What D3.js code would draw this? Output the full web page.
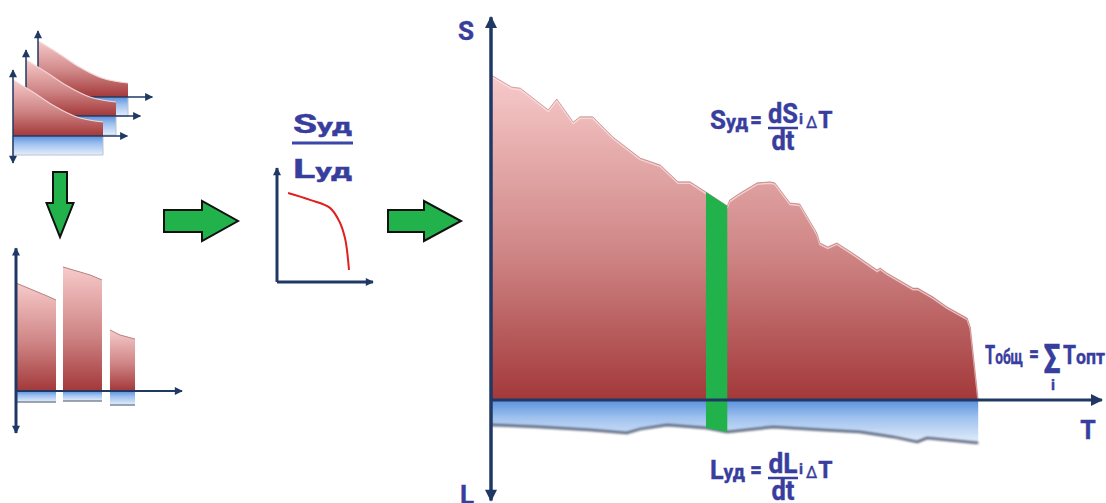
<!DOCTYPE html>
<html>
<head>
<meta charset="utf-8">
<script src="https://cdn.jsdelivr.net/npm/d3@7"></script>
<style>
  body { margin: 0; background: #fff; }
  text { font-family: Roboto, "Noto Sans", sans-serif; font-weight: bold; fill: #383e9e; stroke: #383e9e; stroke-width: 0.4px; }
</style>
</head>
<body>
<svg id="chart" width="1106" height="503"></svg>
<script>
// ---- main diagram: specific value S over time T, losses L below the axis
const profileT = [0, 3.4, 4.8, 9.4, 10.8, 13.5, 14.6, 16.7, 20.0, 24.5, 27.8, 30.7, 32.7, 35.3, 38.8, 39.2, 40.9, 43.7, 45.8, 46.6, 49.1, 50.7, 53.5, 54.0, 55.3, 56.8, 59.4, 63.4, 63.9, 65.0, 69.3, 70.1, 72.6, 74.9, 78.2, 78.7, 80.0];
const profileS = [98.5, 94.8, 94.5, 87.9, 91.2, 84.2, 85.8, 85.8, 79.7, 73.3, 71.2, 66.1, 66.1, 63.0, 58.8, 60.6, 62.7, 65.8, 66.1, 65.8, 59.7, 59.4, 50.6, 47.6, 46.4, 47.6, 44.5, 39.4, 40.0, 38.5, 33.9, 33.9, 31.2, 28.2, 24.8, 22.1, 0];
const lossT = [0, 8.0, 16.3, 22.3, 24.5, 28.9, 35.3, 38.8, 46.3, 54.5, 60.6, 63.9, 66.0, 70.0, 71.6, 74.9, 80.0];
const lossL = [8.3, 9.0, 10.0, 11.0, 9.7, 8.3, 9.3, 10.7, 9.0, 10.0, 10.7, 11.7, 12.3, 14.0, 12.7, 13.3, 14.3];
const sliceT = [35.3, 38.8]; // the highlighted ΔT interval

// ---- stacked source panels (top left)
const stackT = [0, 22, 44, 71, 100];
const stackS = [56, 44, 31, 19, 14];
const stackL = [19, 19, 19, 19, 19];

// ---- split bars (bottom left)
const barT = [[0, 10.2, 18.7, 24.1], [28.3, 38.6, 44.6, 51.8], [56.6, 62.7, 71.7]];
const barS = [[77.1, 72.1, 67.9, 65.0], [88.6, 85.0, 82.9, 79.3], [43.6, 40.0, 37.1]];
const barL = [7.9, 7.1, 10.0];

// ---- S/L ratio curve (middle)
const curveT = [11.5, 34.4, 55.2, 65.6, 70.8, 72.9, 75];
const curveS = [78, 72, 65, 52, 38.6, 28, 10.5];

const svg = d3.select("#chart");
const axisColor = "#1f3864";
const textColor = "#383e9e";
const defs = svg.append("defs");

// gradients
const redGrad = defs.append("linearGradient").attr("id", "red").attr("x1", 0).attr("y1", 0).attr("x2", 0).attr("y2", 1);
redGrad.append("stop").attr("offset", "0%").attr("stop-color", "#f7caca");
redGrad.append("stop").attr("offset", "55%").attr("stop-color", "#cf8585");
redGrad.append("stop").attr("offset", "100%").attr("stop-color", "#a3383a");

const blueGrad = defs.append("linearGradient").attr("id", "blue").attr("x1", 0).attr("y1", 0).attr("x2", 0).attr("y2", 1);
blueGrad.append("stop").attr("offset", "0%").attr("stop-color", "#5a90dc");
blueGrad.append("stop").attr("offset", "40%").attr("stop-color", "#9dc0ee");
blueGrad.append("stop").attr("offset", "100%").attr("stop-color", "#e4eefb");

// soft shadow for the lower (loss) edge
const blur = defs.append("filter").attr("id", "soft").attr("x", "-5%").attr("y", "-50%").attr("width", "110%").attr("height", "200%");
blur.append("feGaussianBlur").attr("stdDeviation", 0.8);

// arrow heads
function marker(id, w, h) {
  defs.append("marker")
    .attr("id", id)
    .attr("viewBox", "0 0 10 10")
    .attr("refX", 9).attr("refY", 5)
    .attr("markerUnits", "userSpaceOnUse")
    .attr("markerWidth", w).attr("markerHeight", h)
    .attr("orient", "auto-start-reverse")
    .append("path")
    .attr("d", "M0,0L10,5L0,10Z")
    .attr("fill", axisColor);
}
marker("arrowBig", 14, 12);
marker("arrowSmall", 9, 8);

function arrowLine(g, x1, y1, x2, y2, width, head, both) {
  return g.append("line")
    .attr("x1", x1).attr("y1", y1).attr("x2", x2).attr("y2", y2)
    .attr("stroke", axisColor).attr("stroke-width", width)
    .attr("marker-end", `url(#${head})`)
    .attr("marker-start", both ? `url(#${head})` : null);
}

// text made of [string, size] parts, squeezed to a given width
function label(g, x0, y0, parts, width, anchor) {
  const t = g.append("text").attr("x", x0).attr("y", y0).attr("text-anchor", anchor || "start");
  parts.forEach(([s, size]) => t.append("tspan").attr("font-size", size).text(s));
  if (width) t.attr("textLength", width).attr("lengthAdjust", "spacingAndGlyphs");
  return t;
}

// ---------------- main chart ----------------
const x = d3.scaleLinear().domain([0, 100]).range([491, 1100]);
const yS = d3.scaleLinear().domain([0, 100]).range([400, 70]);
const yL = d3.scaleLinear().domain([0, 30]).range([400, 490]);

const topPts = profileT.map((t, i) => ({ t, v: profileS[i] }));
const bottomPts = lossT.map((t, i) => ({ t, v: lossL[i] }));

const main = svg.append("g").attr("class", "main");

main.append("path")
  .datum(topPts)
  .attr("d", d3.area().x(d => x(d.t)).y0(yS(0)).y1(d => yS(d.v)))
  .attr("fill", "url(#red)");

main.append("path")
  .datum(topPts)
  .attr("d", d3.line().x(d => x(d.t)).y(d => yS(d.v) + 1.5))
  .attr("fill", "none").attr("stroke", "#fbe3e3").attr("stroke-width", 1.5).attr("opacity", 0.7);

main.append("path")
  .datum(topPts)
  .attr("d", d3.line().x(d => x(d.t)).y(d => yS(d.v)))
  .attr("fill", "none").attr("stroke", "#b87272").attr("stroke-width", 1).attr("opacity", 0.6);

main.append("path")
  .datum(bottomPts)
  .attr("d", d3.area().x(d => x(d.t)).y0(yL(0)).y1(d => yL(d.v)))
  .attr("fill", "url(#blue)");

main.append("path")
  .datum(bottomPts)
  .attr("d", d3.line().x(d => x(d.t)).y(d => yL(d.v)))
  .attr("fill", "none").attr("stroke", "#56627a").attr("stroke-width", 2.5)
  .attr("filter", "url(#soft)");

// highlighted ΔT slice
const inSlice = d => d.t >= sliceT[0] && d.t <= sliceT[1];
const slicePts = topPts.filter(inSlice).map(d => [x(d.t), yS(d.v)])
  .concat(bottomPts.filter(inSlice).reverse().map(d => [x(d.t), yL(d.v)]));
main.append("path")
  .attr("d", d3.line()(slicePts) + "Z")
  .attr("fill", "#22b24c");

// axes
arrowLine(main, x(0), yS(0), x(100.3), yS(0), 3, "arrowBig", false);
arrowLine(main, x(0), yL(33.5), x(0), yS(116), 3.5, "arrowBig", true);

label(main, 466, 40, [["S", 26]], 0, "middle");
label(main, 467, 504, [["L", 26]], 0, "middle");
label(main, 1088, 439, [["T", 25]], 0, "middle");

// formulas  X_уд = dX/dt · i ΔT
function fraction(g, cx, yBar, num, den, wNum, wDen) {
  label(g, cx, yBar - 5, [[num, 27]], wNum, "middle");
  g.append("line").attr("x1", cx - 15).attr("x2", cx + 15).attr("y1", yBar).attr("y2", yBar)
    .attr("stroke", textColor).attr("stroke-width", 2.5);
  label(g, cx, yBar + 22, [[den, 27]], wDen, "middle");
}

function specFormula(g, base, letter, wHead, num, wNum) {
  label(g, 710, base, [[letter, 26], ["уд", 20]], wHead);
  label(g, 750, base - 1, [["=", 24]], 12);
  fraction(g, 783, base - 1, num, "dt", wNum, 23);
  label(g, 799, base - 5, [["i", 15]], 0);
  const dt = g.append("text").attr("x", 806).attr("y", base - 1);
  dt.append("tspan").attr("font-size", 16).attr("font-weight", "normal").text("∆");
  dt.append("tspan").attr("font-size", 23).attr("dx", 1).text("T");
}
specFormula(main, 129, "S", 38, "dS", 30);
specFormula(main, 479, "L", 35, "dL", 29);

label(main, 985, 364, [["T", 25], ["общ", 21]], 38);
label(main, 1029, 362, [["=", 24]], 10);
main.append("text")
  .attr("transform", "translate(1052,373) scale(1,1.35)")
  .attr("text-anchor", "middle").attr("font-size", 30).text("Σ");
label(main, 1053, 390, [["i", 15]], 0, "middle");
label(main, 1063, 364, [["T", 25], ["опт", 21]], 42);

// ---------------- stacked panels (top left) ----------------
const sx = d3.scaleLinear().domain([0, 100]).range([0, 90]);
const sy = d3.scaleLinear().domain([0, 60]).range([0, -60]);
const sl = d3.scaleLinear().domain([0, 60]).range([0, 60]);
const stack = stackT.map((t, i) => ({ t, v: stackS[i], l: stackL[i] }));
const panelOrigins = [[38, 97], [26, 116], [13, 136]];

panelOrigins.forEach(([ox, oy], k) => {
  const g = svg.append("g").attr("transform", `translate(${ox},${oy})`);
  g.append("path").datum(stack)
    .attr("d", d3.area().x(d => sx(d.t)).y0(sl(0)).y1(d => sl(d.l)))
    .attr("fill", "url(#blue)").attr("stroke", "#b9c4d4").attr("stroke-width", 1);
  g.append("path").datum(stack)
    .attr("d", d3.area().x(d => sx(d.t)).y0(sy(0)).y1(d => sy(d.v)).curve(d3.curveMonotoneX))
    .attr("fill", "url(#red)");
  g.append("path").datum(stack)
    .attr("d", d3.line().x(d => sx(d.t)).y(d => sy(d.v)).curve(d3.curveMonotoneX))
    .attr("fill", "none").attr("stroke", "#f3d6d6").attr("stroke-width", 1.2);
  arrowLine(g, sx(0), sy(0), sx(127), sy(0), 1.5, "arrowSmall", false);
  const front = k === panelOrigins.length - 1;
  arrowLine(g, sx(0), front ? 27 : sy(0), sx(0), sy(66), 1.5, "arrowSmall", front);
});

// ---------------- split bars (bottom left) ----------------
const bx = d3.scaleLinear().domain([0, 100]).range([16, 182]);
const by = d3.scaleLinear().domain([0, 100]).range([391, 251]);
const bl = d3.scaleLinear().domain([0, 20]).range([391, 419]);
const bars = svg.append("g");

barT.forEach((ts, k) => {
  const pts = ts.map((t, i) => ({ t, v: barS[k][i] }));
  bars.append("rect")
    .attr("x", bx(ts[0])).attr("y", bl(0))
    .attr("width", bx(ts[ts.length - 1]) - bx(ts[0]))
    .attr("height", bl(barL[k]) - bl(0))
    .attr("fill", "url(#blue)");
  bars.append("line")
    .attr("x1", bx(ts[0])).attr("x2", bx(ts[ts.length - 1]))
    .attr("y1", bl(barL[k])).attr("y2", bl(barL[k]))
    .attr("stroke", "#7d8799").attr("stroke-width", 1.5);
  bars.append("path").datum(pts)
    .attr("d", d3.area().x(d => bx(d.t)).y0(by(0)).y1(d => by(d.v)))
    .attr("fill", "url(#red)");
  bars.append("path").datum(pts)
    .attr("d", d3.line().x(d => bx(d.t)).y(d => by(d.v)))
    .attr("fill", "none").attr("stroke", "#b58080").attr("stroke-width", 1);
});
arrowLine(bars, bx(0), by(0), bx(100), by(0), 1.8, "arrowSmall", false);
arrowLine(bars, bx(0), bl(30), bx(0), by(102), 3, "arrowSmall", true);

// ---------------- S/L curve (middle) ----------------
const cx = d3.scaleLinear().domain([0, 100]).range([277, 373]);
const cy = d3.scaleLinear().domain([0, 100]).range([282, 168]);
const mid = svg.append("g");
mid.append("path")
  .datum(curveT.map((t, i) => ({ t, v: curveS[i] })))
  .attr("d", d3.line().x(d => cx(d.t)).y(d => cy(d.v)).curve(d3.curveCatmullRom))
  .attr("fill", "none").attr("stroke", "#e0201e").attr("stroke-width", 2);
arrowLine(mid, cx(0), cy(0), cx(100), cy(0), 3, "arrowSmall", false);
arrowLine(mid, cx(0), cy(0), cx(0), cy(100), 3, "arrowSmall", false);

label(mid, 293, 133, [["S", 26], ["уд", 21]], 59);
mid.append("line").attr("x1", 292).attr("x2", 353).attr("y1", 143).attr("y2", 143)
  .attr("stroke", "#3b47a8").attr("stroke-width", 3);
label(mid, 293, 178, [["L", 26], ["уд", 21]], 59);

// ---------------- green process arrows ----------------
function greenArrow(x0, y0, bodyLen, bodyW, headLen, headW, angle) {
  const shape = [[0, -bodyW / 2], [bodyLen, -bodyW / 2], [bodyLen, -headW / 2], [bodyLen + headLen, 0],
                 [bodyLen, headW / 2], [bodyLen, bodyW / 2], [0, bodyW / 2]];
  svg.append("path")
    .attr("d", d3.line()(shape) + "Z")
    .attr("transform", `translate(${x0},${y0}) rotate(${angle})`)
    .attr("fill", "#22b24c").attr("stroke", "#111").attr("stroke-width", 2).attr("stroke-linejoin", "miter");
}
greenArrow(60, 172, 31, 14, 34, 27, 90);
greenArrow(164, 221, 38, 22, 36, 40, 0);
greenArrow(388, 221, 36, 22, 37, 40, 0);
</script>
</body>
</html>
